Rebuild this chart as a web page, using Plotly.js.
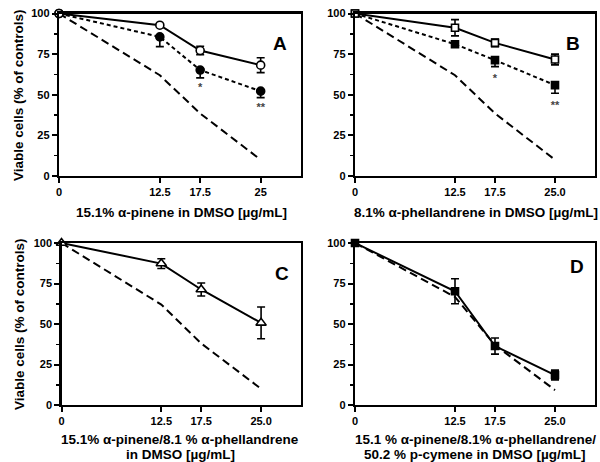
<!DOCTYPE html>
<html>
<head>
<meta charset="utf-8">
<script src="https://cdn.plot.ly/plotly-3.0.1.min.js"></script>
<style>html,body{margin:0;padding:0;background:#fff}#plot{width:600px;height:462px}</style>
</head>
<body>
<div id="plot"></div>
<script>
// ---- data ----
const doses = [0, 12.5, 17.5, 25];
const tickLabelsA = ["0", "12.5", "17.5", "25"];
const tickLabelsBCD = ["0", "12.5", "17.5", "25.0"];
const yTicks = [0, 25, 50, 75, 100];

// Panel A: alpha-pinene
const aOpen = [100, 92.8, 77.2, 68.2];
const aOpenErr = [0, 0.8, 2.6, 4.6];
const aFilled = [100, 85.6, 65.2, 52.2];
const aFilledErrUp = [0, 0.8, 0.8, 0.8];
const aFilledErrDown = [0, 6.0, 4.8, 4.0];
const aExpected = [100, 62, 38.5, 10];
const aSigX = [17.5, 25];
const aSigY = [54.0, 41.5];
const aSigText = ["*", "**"];

// Panel B: alpha-phellandrene
const bOpen = [100, 91.2, 81.9, 71.7];
const bOpenErr = [0, 5.0, 2.3, 3.3];
const bFilled = [100, 81.1, 71.3, 55.9];
const bFilledErrUp = [0, 0.8, 0.8, 0.8];
const bFilledErrDown = [0, 1.0, 4.0, 5.0];
const bExpected = [100, 62, 38.5, 10];
const bSigX = [17.5, 25];
const bSigY = [59.5, 43.0];
const bSigText = ["*", "**"];

// Panel C: alpha-pinene / alpha-phellandrene
const cOpen = [100, 87.3, 71.3, 50.7];
const cOpenErr = [0, 3.0, 4.0, 9.8];
const cExpected = [100, 62, 38, 10];

// Panel D: alpha-pinene / alpha-phellandrene / p-cymene
const dFilled = [100, 70.2, 36.4, 18.5];
const dFilledErr = [0, 7.7, 5.0, 3.0];
const dExpected = [100, 66.7, 37, 9.2];

const panelLetters = ["A", "B", "C", "D"];
const xTitleLines = [
  ["15.1% α-pinene in DMSO [µg/mL]"],
  ["8.1% α-phellandrene in DMSO [µg/mL]"],
  ["15.1% α-pinene/8.1 % α-phellandrene", "in DMSO [µg/mL]"],
  ["15.1 % α-pinene/8.1% α-phellandrene/", "50.2 % p-cymene in DMSO [µg/mL]"]
];
const yTitle = "Viable cells (% of controls)";

// ---- styling helpers ----
const FONT = "Arial, 'Liberation Sans', Helvetica, sans-serif";
const BLACK = "#000";
const expDash = "8px,4.5px";
const dotDash = "4px,3px";

function errBar(up, down) {
  const e = {type: "data", array: up, visible: true, color: BLACK, thickness: 1.6, width: 4};
  if (down) { e.symmetric = false; e.arrayminus = down; } else { e.symmetric = true; }
  return e;
}
function lineTrace(xa, ya, y, dash) {
  return {x: doses, y: y, xaxis: xa, yaxis: ya, mode: "lines", cliponaxis: false,
          line: {color: BLACK, width: 2, dash: dash}, hoverinfo: "skip", showlegend: false};
}
function markTrace(xa, ya, y, dash, symbol, fill, size, err) {
  return {x: doses, y: y, xaxis: xa, yaxis: ya, mode: "lines+markers", cliponaxis: false,
          line: {color: BLACK, width: 2, dash: dash},
          marker: {symbol: symbol, size: size, color: fill, line: {color: BLACK, width: 1.6}},
          error_y: err, showlegend: false};
}
function sigTrace(xa, ya, xs, ys, txt) {
  return {x: xs, y: ys, text: txt, xaxis: xa, yaxis: ya, mode: "text", cliponaxis: false,
          textfont: {family: FONT, size: 11, color: "#444", weight: "bold"},
          textposition: "middle center", showlegend: false, hoverinfo: "skip"};
}

const traces = [
  // A
  lineTrace("x", "y", aExpected, expDash),
  markTrace("x", "y", aFilled, dotDash, "circle", BLACK, 8, errBar(aFilledErrUp, aFilledErrDown)),
  markTrace("x", "y", aOpen, "solid", "circle", "#fff", 8, errBar(aOpenErr)),
  sigTrace("x", "y", aSigX, aSigY, aSigText),
  // B
  lineTrace("x2", "y2", bExpected, expDash),
  markTrace("x2", "y2", bFilled, dotDash, "square", BLACK, 7, errBar(bFilledErrUp, bFilledErrDown)),
  markTrace("x2", "y2", bOpen, "solid", "square", "#fff", 7, errBar(bOpenErr)),
  sigTrace("x2", "y2", bSigX, bSigY, bSigText),
  // C
  lineTrace("x3", "y3", cExpected, expDash),
  markTrace("x3", "y3", cOpen, "solid", "triangle-up", "#fff", 9, errBar(cOpenErr)),
  // D
  lineTrace("x4", "y4", dExpected, expDash),
  markTrace("x4", "y4", dFilled, "solid", "square", BLACK, 7, errBar(dFilledErr))
];

// ---- layout geometry (pixels -> paper) ----
const W = 600, H = 462;
const px = v => v / W, py = v => 1 - v / H;
const panels = [
  {xd: [59, 301], yd: [13.5, 176], labels: tickLabelsA},
  {xd: [355, 595], yd: [13.5, 176], labels: tickLabelsBCD},
  {xd: [61.5, 301], yd: [243, 405], labels: tickLabelsBCD},
  {xd: [355, 595], yd: [243, 405], labels: tickLabelsBCD}
];

const layout = {
  width: W, height: H,
  margin: {l: 0, r: 0, t: 0, b: 0},
  paper_bgcolor: "#fff", plot_bgcolor: "#fff",
  font: {family: FONT, color: BLACK},
  showlegend: false,
  annotations: []
};

const letterPos = [[280, 43], [573, 43], [282, 273], [577, 266]];
const xTitleCenters = [181, 476, 180, 475];
const xTitleRows = [[212], [212], [439, 454.5], [439, 454.5]];

panels.forEach((p, i) => {
  const n = i === 0 ? "" : String(i + 1);
  layout["xaxis" + n] = {
    domain: [px(p.xd[0]), px(p.xd[1])], anchor: "y" + n, range: [0, 30],
    tickmode: "array", tickvals: doses, ticktext: p.labels,
    ticks: "outside", ticklen: 5, tickwidth: 2, tickcolor: BLACK,
    showline: true, linewidth: 2.2, linecolor: BLACK, mirror: true,
    showgrid: false, zeroline: false, fixedrange: true,
    tickfont: {family: FONT, size: 11, color: BLACK, weight: "bold"}
  };
  layout["yaxis" + n] = {
    domain: [py(p.yd[1]), py(p.yd[0])], anchor: "x" + n, range: [0, 100],
    tickmode: "array", tickvals: yTicks,
    ticks: "outside", ticklen: 5, tickwidth: 2, tickcolor: BLACK,
    minor: {tickmode: "linear", tick0: 0, dtick: 12.5, ticks: "outside", ticklen: 3, tickwidth: 1.5, tickcolor: BLACK, showgrid: false},
    showline: true, linewidth: 2.2, linecolor: BLACK, mirror: true,
    showgrid: false, zeroline: false, fixedrange: true,
    tickfont: {family: FONT, size: 11, color: BLACK, weight: "bold"}
  };
  layout.annotations.push({
    text: panelLetters[i], xref: "paper", yref: "paper",
    x: px(letterPos[i][0]), y: py(letterPos[i][1]), xanchor: "center", yanchor: "middle",
    showarrow: false, font: {family: FONT, size: 19, color: BLACK, weight: "bold"}
  });
  xTitleLines[i].forEach((line, k) => {
    layout.annotations.push({
      text: line, xref: "paper", yref: "paper",
      x: px(xTitleCenters[i]), y: py(xTitleRows[i][k]), xanchor: "center", yanchor: "middle",
      showarrow: false, align: "center",
      font: {family: FONT, size: 13.5, color: BLACK, weight: "bold"}
    });
  });
});

// y axis titles (left column)
[[19, 95], [19, 324]].forEach(pos => {
  layout.annotations.push({
    text: yTitle, xref: "paper", yref: "paper",
    x: px(pos[0]), y: py(pos[1]), xanchor: "center", yanchor: "middle",
    textangle: -90, showarrow: false,
    font: {family: FONT, size: 13.5, color: BLACK, weight: "bold"}
  });
});

Plotly.newPlot("plot", traces, layout, {staticPlot: true, displayModeBar: false});
</script>
</body>
</html>
